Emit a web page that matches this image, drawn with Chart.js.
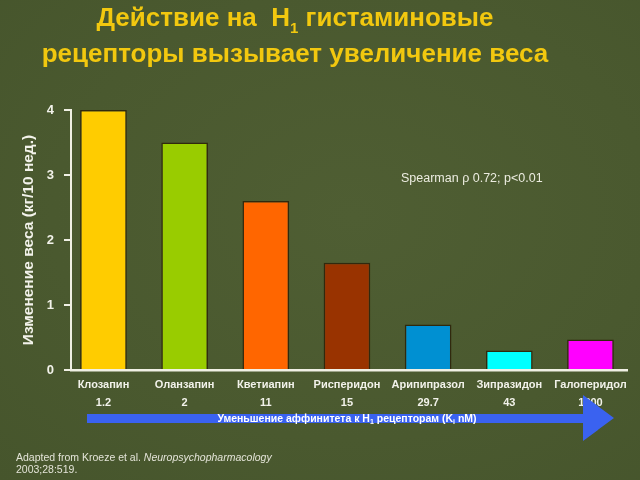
<!DOCTYPE html>
<html>
<head>
<meta charset="utf-8">
<script src="https://cdn.jsdelivr.net/npm/chart.js@4.4.1/dist/chart.umd.min.js"></script>
<style>
    html, body { margin: 0; padding: 0; background: #4b5a30; }
    #wrap { position: relative; width: 640px; height: 480px; overflow: hidden;
        background: radial-gradient(ellipse at 55% 45%, #4f5e33 0%, #4a592f 60%, #46552c 100%);
        font-family: "Liberation Sans", Arial, sans-serif; }
    #wrap canvas { position: absolute; left: 0; top: 0; }
    .title { position: absolute; left: 0; width: 590px; text-align: center; color: #f2c80f;
        font-weight: bold; font-size: 26px; line-height: 30px; white-space: nowrap; }
    .title sub { font-size: 15px; vertical-align: -7px; line-height: 0; }
    #note { position: absolute; left: 401px; top: 171px; color: #ecece0; font-size: 12.5px; white-space: nowrap; }
    #source { position: absolute; left: 16px; top: 451px; color: #e4e4d8; font-size: 10.5px; line-height: 12px; }
    #arrow { position: absolute; left: 87px; top: 395px; width: 527px; height: 46px; background: #3a62f0;
        clip-path: polygon(0 19px, 496px 19px, 496px 0, 527px 23px, 496px 46px, 496px 28px, 0 28px); }
    #arrowText { position: absolute; left: 87px; width: 520px; top: 411px; text-align: center; color: #ffffff;
        font-weight: bold; font-size: 10.5px; line-height: 14px; white-space: nowrap; }
    #arrowText sub { font-size: 7px; vertical-align: -2px; line-height: 0; }
</style>
</head>
<body>
<div id="wrap">
    <canvas id="weightChart" width="640" height="480"></canvas>
    <div class="title" style="top: 2px;">Действие на&nbsp; H<sub>1</sub> гистаминовые</div>
    <div class="title" style="top: 38px;">рецепторы вызывает увеличение веса</div>
    <div id="note">Spearman ρ 0.72; p&lt;0.01</div>
    <div id="arrow"></div>
    <div id="arrowText">Уменьшение аффинитета к H<sub>1</sub> рецепторам (K<sub>i</sub> nM)</div>
    <div id="source">Adapted from Kroeze et al. <i>Neuropsychopharmacology</i><br>2003;28:519.</div>
</div>
<script>
// Data
const drugs = ['Клозапин', 'Оланзапин', 'Кветиапин', 'Рисперидон', 'Арипипразол', 'Зипразидон', 'Галоперидол'];
const affinity = ['1.2', '2', '11', '15', '29.7', '43', '1800'];
const weightGain = [4.0, 3.5, 2.6, 1.65, 0.7, 0.3, 0.47];
const barColors = ['#ffcc00', '#99cc00', '#ff6600', '#993300', '#0090d2', '#00ffff', '#ff00ff'];
const yTicks = [0, 1, 2, 3, 4];

const axisColor = '#f0f0e4';

new Chart(document.getElementById('weightChart'), {
    type: 'bar',
    data: {
        datasets: [{
            data: weightGain.map((v, i) => ({ x: i, y: v })),
            backgroundColor: barColors,
            borderColor: 'rgba(45, 35, 10, 0.9)',
            borderWidth: 1.5,
            borderSkipped: 'bottom',
            barPercentage: 0.575,
            categoryPercentage: 1
        }]
    },
    options: {
        responsive: false,
        animation: false,
        layout: { padding: { top: 110, right: 13, left: 0, bottom: 0 } },
        plugins: {
            legend: { display: false },
            title: { display: false },
            tooltip: { enabled: false }
        },
        scales: {
            x: {
                type: 'linear',
                offset: false,
                min: -0.4,
                max: 6.45,
                afterFit: function(scale) { scale.height = 110; },
                afterBuildTicks: function(scale) {
                    scale.ticks = drugs.map((_, i) => ({ value: i }));
                },
                grid: { display: false },
                border: { display: true, color: axisColor, width: 2.5 },
                ticks: {
                    autoSkip: false,
                    maxRotation: 0,
                    padding: -2,
                    color: '#f2f2ea',
                    font: { family: 'Liberation Sans', size: 11, weight: 'bold', lineHeight: '18px' },
                    callback: function(value) {
                        return [drugs[value], affinity[value]];
                    }
                }
            },
            y: {
                min: 0,
                max: 4,
                afterFit: function(scale) { scale.width = 71; },
                afterBuildTicks: function(scale) {
                    scale.ticks = yTicks.map(v => ({ value: v }));
                },
                grid: {
                    drawOnChartArea: false,
                    drawTicks: true,
                    tickLength: 7,
                    color: axisColor,
                    lineWidth: 2
                },
                border: { display: true, color: axisColor, width: 2 },
                ticks: {
                    padding: 10,
                    color: '#f2f2ea',
                    font: { family: 'Liberation Sans', size: 13, weight: 'bold' }
                },
                title: {
                    display: true,
                    text: 'Изменение веса (кг/10 нед.)',
                    color: '#f2f2ea',
                    padding: { top: 19, bottom: 0 },
                    font: { family: 'Liberation Sans', size: 15.5, weight: 'bold' }
                }
            }
        }
    }
});
</script>
</body>
</html>
